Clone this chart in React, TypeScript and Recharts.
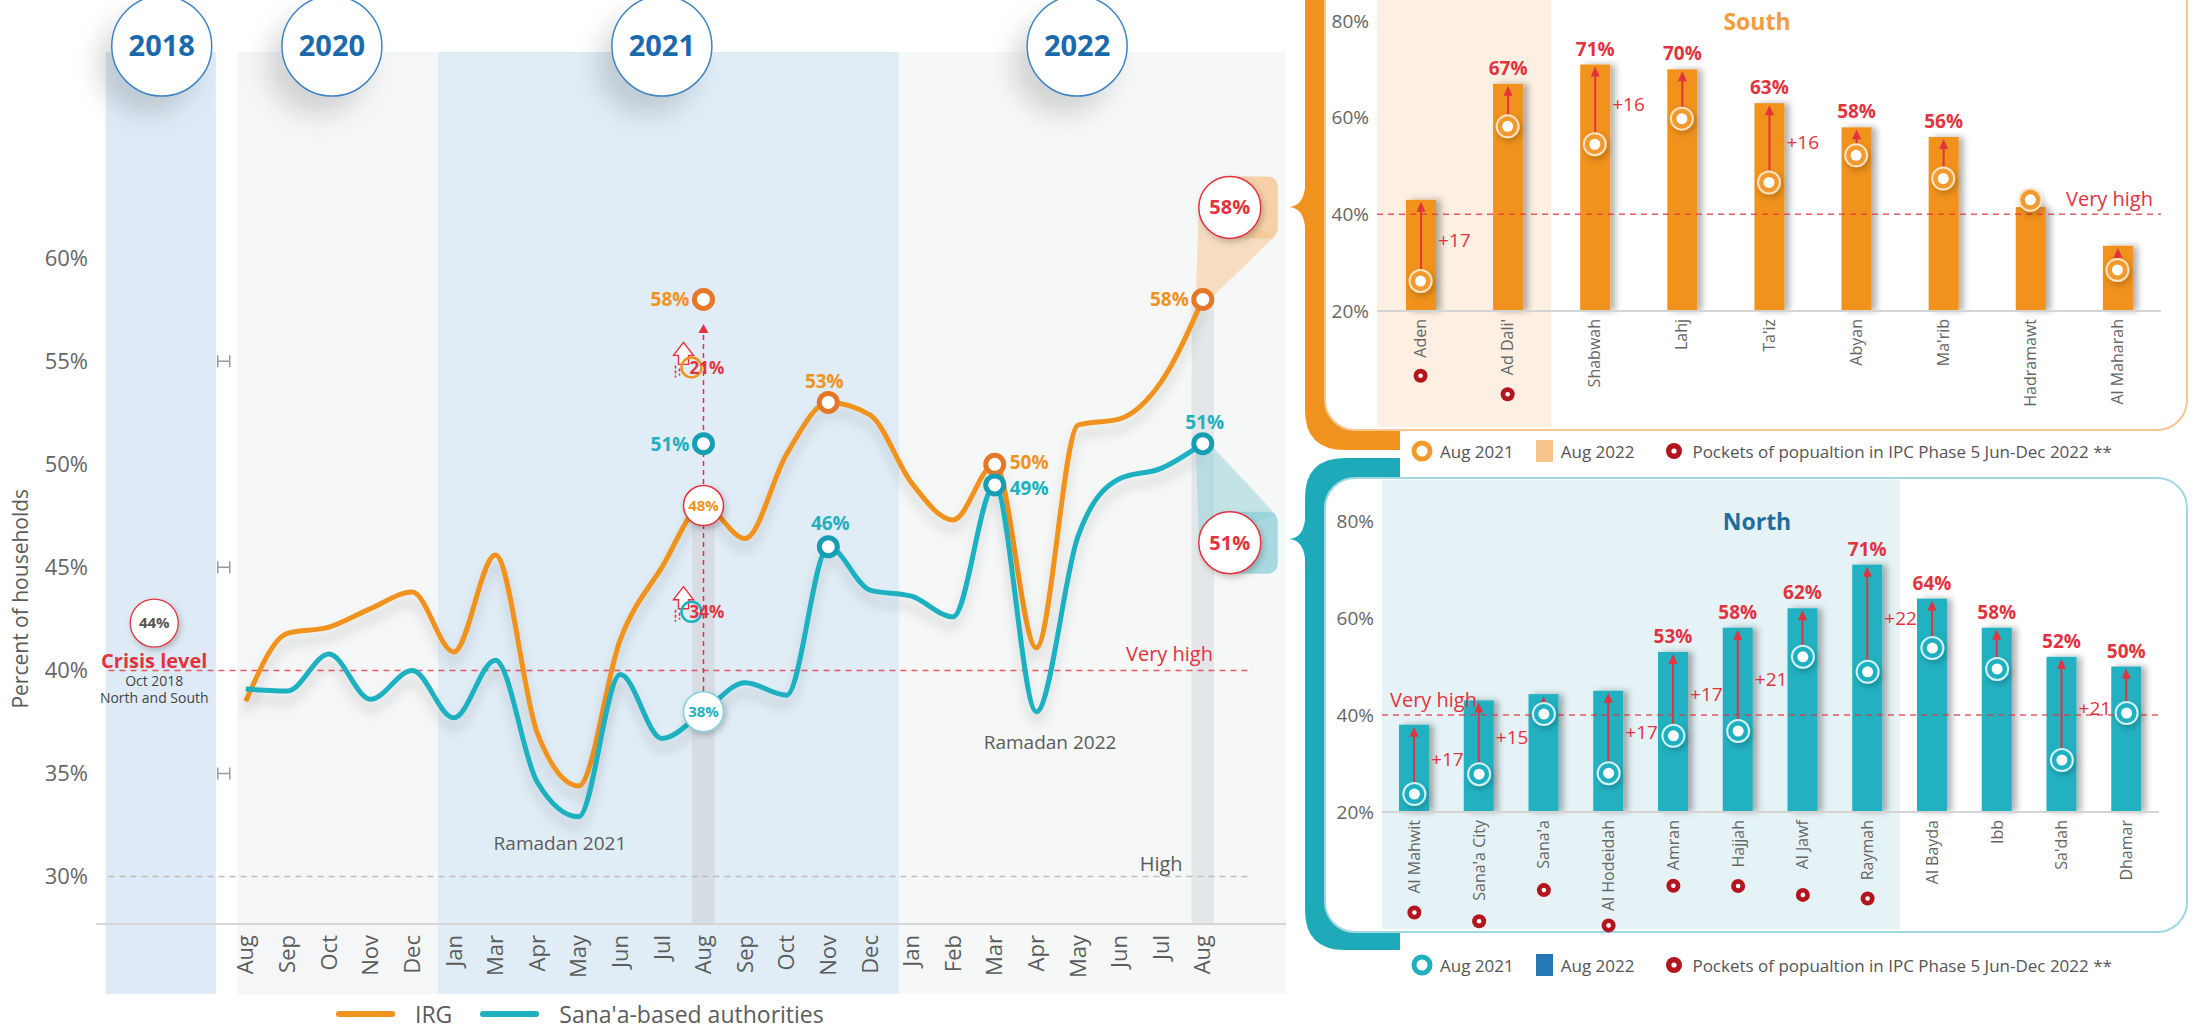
import React from 'react';
import {
  LineChart, Line, XAxis, YAxis, ReferenceArea, ReferenceLine, ReferenceDot, Legend,
  ComposedChart, Bar, Scatter,
} from 'recharts';

// ---------- main chart data ----------
const months = [
  'Aug', 'Sep', 'Oct', 'Nov', 'Dec',
  'Jan', 'Mar', 'Apr', 'May', 'Jun', 'Jul', 'Aug', 'Sep', 'Oct', 'Nov', 'Dec',
  'Jan', 'Feb', 'Mar', 'Apr', 'May', 'Jun', 'Jul', 'Aug',
];
const irgShare = [38.5, 41.8, 42.1, 43.0, 43.8, 40.9, 45.6, 37.0, 34.4, 41.5, 45.0, 48, 46.4, 50.5, 53, 52.4, 49.1, 47.3, 50, 41.1, 51.9, 52.2, 54.0, 58];
const sanaaShare = [39.1, 39.0, 40.8, 38.6, 40.0, 37.7, 40.5, 34.6, 32.9, 39.8, 36.7, 38, 39.4, 38.8, 46, 43.9, 43.6, 42.6, 49, 38.0, 46.5, 49.3, 49.8, 51];
const yearBadges = ['2018', '2020', '2021', '2022'];
const augIncrease = [21, 34]; // Aug 2021 -> Aug 2022 : IRG, Sana'a
const crisisShare = 44;
const yTicks = [30, 35, 40, 45, 50, 55, 60];

// ---------- governorate panels ----------
const southRegions = ['Aden', "Ad Dali'", 'Shabwah', 'Lahj', "Ta'iz", 'Abyan', "Ma'rib", 'Hadramawt', 'Al Maharah'];
const southAug22 = [43, 67, 71, 70, 63, 58, 56, 41.5, 33.5];
const southAug21 = [26.2, 58.2, 54.5, 59.8, 46.6, 52.2, 47.4, 43, 28.5];
const southChange = [17, null, 16, null, 16, null, null, null, null];
const southShowValue = [false, true, true, true, true, true, true, false, false];
const southPockets = [true, true, false, false, false, false, false, false, false];

const northRegions = ['Al Mahwit', "Sana'a City", "Sana'a", 'Al Hodeidah', 'Amran', 'Hajjah', 'Al Jawf', 'Raymah', 'Al Bayda', 'Ibb', "Sa'dah", 'Dhamar'];
const northAug22 = [38, 43, 44.3, 45, 53, 58, 62, 71, 64, 58, 52, 50];
const northAug21 = [23.7, 27.8, 40.2, 28, 35.7, 36.7, 52, 48.9, 53.8, 49.5, 30.7, 40.4];
const northChange = [17, 15, null, 17, 17, 21, null, 22, null, null, 21, null];
const northShowValue = [false, false, false, false, true, true, true, true, true, true, true, true];
const northPockets = [true, true, true, true, true, true, true, true, false, false, false, false];

const panelTicks = [20, 40, 60, 80];
const pocketLabel = 'Pockets of popualtion in IPC Phase 5 Jun-Dec 2022 **';

// ---------- styling ----------
const RED = '#e2333f';
const ORANGE = '#f0921e';
const ORANGE_RING = '#e5772a';
const TEAL = '#1fb0c0';
const TEAL_RING = '#169fb2';
const GREY = '#5c5c5c';
const POCKET = '#b3141d';
const FONT = '"Open Sans", sans-serif';

const mainRows = months.map((m, i) => ({ idx: i, month: m, irg: irgShare[i], sanaa: sanaaShare[i] }));
const southRows = southRegions.map((r, i) => ({
  region: r, aug22: southAug22[i], aug21: southAug21[i], change: southChange[i],
  showValue: southShowValue[i], pocket: southPockets[i],
}));
const northRows = northRegions.map((r, i) => ({
  region: r, aug22: northAug22[i], aug21: northAug21[i], change: northChange[i],
  showValue: northShowValue[i], pocket: northPockets[i],
}));

// layout anchors (x in month-index units, y in %)
const yearBands = [
  { x1: -3.37, x2: -0.72, fill: '#deebf6' },
  { x1: -0.2, x2: 4.62, fill: '#f5f6f7' },
  { x1: 4.62, x2: 15.7, fill: '#e0ecf6' },
  { x1: 15.7, x2: 25, fill: '#f6f7f7' },
];
const badgeX = [-2.02, 2.07, 10, 19.98];
const AUG21 = 11;
const AUG22 = 23;

type Spot = { dx: number; dy: number; anchor: 'start' | 'middle' | 'end' };
const irgSpots: Record<number, Spot> = {
  14: { dx: -4, dy: -14, anchor: 'middle' },
  18: { dx: 15, dy: 5, anchor: 'start' },
  23: { dx: -14, dy: 7, anchor: 'end' },
};
const sanaaSpots: Record<number, Spot> = {
  14: { dx: 2, dy: -17, anchor: 'middle' },
  18: { dx: 15, dy: 10, anchor: 'start' },
  23: { dx: 2, dy: -15, anchor: 'middle' },
};

function seriesDot(key: 'irg' | 'sanaa', text: string, ring: string, bubbleRing: string, spots: Record<number, Spot>) {
  return (p: any) => {
    const { cx, cy, index, payload } = p;
    const v = payload[key];
    if (index === AUG21) {
      return (
        <g key={`${key}-bubble`}>
          <circle cx={cx} cy={cy} r={20} fill="#fff" stroke={bubbleRing} strokeWidth={1.5} filter="url(#softShadow)" />
          <text x={cx} y={cy} dy="0.35em" textAnchor="middle" fill={text} fontSize={15} fontWeight={700}>{v}%</text>
        </g>
      );
    }
    const s = spots[index];
    if (!s) return <g key={`${key}-${index}`} />;
    return (
      <g key={`${key}-${index}`}>
        <circle cx={cx} cy={cy} r={9} fill="#fff" stroke={ring} strokeWidth={5} />
        <text x={cx + s.dx} y={cy + s.dy} textAnchor={s.anchor} fill={text} fontSize={19} fontWeight={700}>{v}%</text>
      </g>
    );
  };
}

const MonthTick = (p: any) => (
  <g transform={`translate(${p.x},${p.y})`}>
    <text transform="rotate(-90)" x={-3} y={0} dy="0.35em" textAnchor="end" fill={GREY} fontSize={22}>
      {months[p.payload.value]}
    </text>
  </g>
);

function Callout({ cx, cy, dir, tint, text, reach }: any) {
  const bx = cx + 27;
  const by = cy + dir * reach;
  const beam = `${cx - 7},${cy} ${bx - 31},${by} ${bx + 46},${by - dir * 28} ${cx + 7},${cy}`;
  return (
    <g>
      <polygon points={beam} fill={tint} fillOpacity={0.5} />
      <rect x={bx - 10} y={by - 31} width={58} height={62} rx={10} fill={tint} fillOpacity={0.75} />
      <circle cx={bx} cy={by} r={31} fill="#fff" stroke={RED} strokeWidth={1.5} filter="url(#softShadow)" />
      <text x={bx} y={by} dy="0.35em" textAnchor="middle" fill={RED} fontSize={20} fontWeight={700}>{text}</text>
    </g>
  );
}

function IncreaseMark({ cx, cy, ring, text }: any) {
  return (
    <g>
      <path d={`M${cx - 30},${cy - 12} l10,-13 l10,13 h-5 v9 h-10 v-9 z`} fill="#fff" stroke={RED} strokeWidth={1.4} />
      <path d={`M${cx - 28},${cy - 2} v12 M${cx - 24},${cy + 1} v7`} stroke={RED} strokeWidth={1.6} strokeDasharray="3 2" />
      <circle cx={cx - 12} cy={cy} r={10} fill="none" stroke={ring} strokeWidth={2.5} />
      <text x={cx - 14} y={cy} dy="0.36em" fill={RED} fontSize={17} fontWeight={700}>{text}%</text>
    </g>
  );
}

const TextMark = ({ cx, cy, text, fill, size, weight }: any) => (
  <text x={cx} y={cy} dy="0.35em" textAnchor="middle" fill={fill} fontSize={size} fontWeight={weight || 400}>{text}</text>
);

const MainLegend = (props: any) => (
  <div style={{ display: 'flex', alignItems: 'center', fontFamily: FONT }}>
    {(props.payload || []).map((e: any) => (
      <div key={e.value} style={{ display: 'flex', alignItems: 'center', marginRight: 28 }}>
        <span style={{ display: 'inline-block', width: 59, height: 6, borderRadius: 3, background: e.color, marginRight: 20 }} />
        <span style={{ fontSize: 23, color: GREY }}>{e.value}</span>
      </div>
    ))}
  </div>
);

const yLabel = (p: any) => {
  const vb = p.viewBox;
  const x = vb.x - 25;
  const y = vb.y + vb.height * 0.627;
  return (
    <text x={x} y={y} transform={`rotate(-90, ${x}, ${y})`} textAnchor="middle" dy="0.35em" fill={GREY} fontSize={21}>
      Percent of households
    </text>
  );
};

function MainChart() {
  return (
    <LineChart width={1300} height={1029} data={mainRows} margin={{ top: 52, right: 14, bottom: 45, left: 46 }}>
      {yearBands.map((b, i) => (
        <ReferenceArea key={`band-${i}`} x1={b.x1} x2={b.x2} y1={24.3} y2={70} ifOverflow="visible" fill={b.fill} fillOpacity={1} stroke="none" />
      ))}
      <ReferenceArea x1={AUG21 - 0.27} x2={AUG21 + 0.27} y1={27.7} y2={irgShare[AUG21]} ifOverflow="visible" fill="#d3d9e0" fillOpacity={0.8} stroke="none" />
      <ReferenceArea x1={AUG22 - 0.27} x2={AUG22 + 0.27} y1={27.7} y2={irgShare[AUG22]} ifOverflow="visible" fill="#e2e4e7" fillOpacity={0.9} stroke="none" />
      <XAxis dataKey="idx" type="number" domain={[-3.6, 25]} ticks={mainRows.map((r) => r.idx)} interval={0}
        tick={(p: any) => <MonthTick {...p} />} tickLine={false} axisLine={{ stroke: '#d6d6d6', strokeWidth: 2 }} height={60} allowDataOverflow />
      <YAxis domain={[27.7, 70]} ticks={yTicks} tickFormatter={(v: number) => `${v}%`} width={50} tickLine={false} axisLine={false}
        tick={{ fill: '#666', fontSize: 22 }} label={yLabel} allowDataOverflow />
      <ReferenceLine segment={[{ x: -3.3, y: 40 }, { x: 24.2, y: 40 }]} stroke={RED} strokeOpacity={0.8} strokeDasharray="6 5" strokeWidth={1.5} ifOverflow="visible" />
      <ReferenceLine segment={[{ x: -3.3, y: 30 }, { x: 24.2, y: 30 }]} stroke="#bdbdbd" strokeDasharray="6 5" strokeWidth={1.5} ifOverflow="visible" />
      <ReferenceLine segment={[{ x: AUG21, y: sanaaShare[AUG21] + 1 }, { x: AUG21, y: irgShare[AUG22] - 1.2 }]} stroke={RED} strokeDasharray="5 4" strokeWidth={1.5} />
      <ReferenceDot x={AUG21} y={irgShare[AUG22] - 1.2} ifOverflow="visible"
        shape={(p: any) => <path d={`M${p.cx - 5},${p.cy + 9} L${p.cx},${p.cy} L${p.cx + 5},${p.cy + 9} Z`} fill={RED} />} />

      {/* breaks on the y axis */}
      {[55, 45, 35].map((v) => (
        <ReferenceDot key={`brk-${v}`} x={-0.53} y={v} ifOverflow="visible"
          shape={(p: any) => <path d={`M${p.cx - 6},${p.cy - 6} v12 M${p.cx + 6},${p.cy - 6} v12 M${p.cx - 6},${p.cy} h12`} stroke="#9a9a9a" strokeWidth={1.5} fill="none" />} />
      ))}

      {/* callouts to the governorate panels */}
      <ReferenceDot x={AUG22} y={irgShare[AUG22]} ifOverflow="visible"
        shape={(p: any) => <Callout cx={p.cx} cy={p.cy} dir={-1} reach={92} tint="#f5c48e" text={`${irgShare[AUG22]}%`} />} />
      <ReferenceDot x={AUG22} y={sanaaShare[AUG22]} ifOverflow="visible"
        shape={(p: any) => <Callout cx={p.cx} cy={p.cy} dir={1} reach={99} tint="#8fcfd8" text={`${sanaaShare[AUG22]}%`} />} />

      <Line dataKey="irg" name="IRG" type="monotone" stroke={ORANGE} strokeWidth={5} filter="url(#lineShadow)"
        dot={seriesDot('irg', ORANGE, ORANGE_RING, RED, irgSpots)} activeDot={false} isAnimationActive={false} />
      <Line dataKey="sanaa" name="Sana'a-based authorities" type="monotone" stroke={TEAL} strokeWidth={5} filter="url(#lineShadow)"
        dot={seriesDot('sanaa', TEAL, TEAL_RING, '#7fd0da', sanaaSpots)} activeDot={false} isAnimationActive={false} />

      {/* Aug 2022 values shown again in the Aug 2021 column */}
      <ReferenceDot x={AUG21} y={irgShare[AUG22]} ifOverflow="visible"
        shape={(p: any) => (
          <g>
            <circle cx={p.cx} cy={p.cy} r={9} fill="#fff" stroke={ORANGE_RING} strokeWidth={5} />
            <text x={p.cx - 14} y={p.cy + 7} textAnchor="end" fill={ORANGE} fontSize={19} fontWeight={700}>{irgShare[AUG22]}%</text>
          </g>
        )} />
      <ReferenceDot x={AUG21} y={sanaaShare[AUG22]} ifOverflow="visible"
        shape={(p: any) => (
          <g>
            <circle cx={p.cx} cy={p.cy} r={9} fill="#fff" stroke={TEAL_RING} strokeWidth={5} />
            <text x={p.cx - 14} y={p.cy + 7} textAnchor="end" fill={TEAL} fontSize={19} fontWeight={700}>{sanaaShare[AUG22]}%</text>
          </g>
        )} />
      <ReferenceDot x={AUG21} y={54.7} ifOverflow="visible"
        shape={(p: any) => <IncreaseMark cx={p.cx} cy={p.cy} ring={ORANGE} text={augIncrease[0]} />} />
      <ReferenceDot x={AUG21} y={42.85} ifOverflow="visible"
        shape={(p: any) => <IncreaseMark cx={p.cx} cy={p.cy} ring={TEAL} text={augIncrease[1]} />} />

      {/* text annotations */}
      <ReferenceDot x={7.55} y={31.6} ifOverflow="visible" shape={(p: any) => <TextMark {...p} text="Ramadan 2021" fill={GREY} size={19} />} />
      <ReferenceDot x={19.33} y={36.5} ifOverflow="visible" shape={(p: any) => <TextMark {...p} text="Ramadan 2022" fill={GREY} size={19} />} />
      <ReferenceDot x={22.2} y={40.8} ifOverflow="visible" shape={(p: any) => <TextMark {...p} text="Very high" fill={RED} size={20} />} />
      <ReferenceDot x={22.0} y={30.6} ifOverflow="visible" shape={(p: any) => <TextMark {...p} text="High" fill={GREY} size={20} />} />

      {/* 2018 crisis reference */}
      <ReferenceDot x={-2.2} y={42.3} ifOverflow="visible"
        shape={(p: any) => (
          <g>
            <circle cx={p.cx} cy={p.cy} r={24} fill="#fff" stroke={RED} strokeWidth={1.3} filter="url(#softShadow)" />
            <text x={p.cx} y={p.cy} dy="0.35em" textAnchor="middle" fill="#555" fontSize={15} fontWeight={700}>{crisisShare}%</text>
            <text x={p.cx} y={p.cy + 45} textAnchor="middle" fill={RED} fontSize={20} fontWeight={700}>Crisis level</text>
            <text x={p.cx} y={p.cy + 63} textAnchor="middle" fill="#444" fontSize={14}>Oct 2018</text>
            <text x={p.cx} y={p.cy + 80} textAnchor="middle" fill="#444" fontSize={14}>North and South</text>
          </g>
        )} />

      {/* year badges */}
      {yearBadges.map((yr, i) => (
        <ReferenceDot key={yr} x={badgeX[i]} y={70.29} ifOverflow="visible"
          shape={(p: any) => (
            <g>
              <circle cx={p.cx} cy={p.cy} r={50} fill="#fff" stroke="#3f83c1" strokeWidth={1.5} filter="url(#badgeShadow)" />
              <text x={p.cx} y={p.cy} dy="0.36em" textAnchor="middle" fill="#1b69ad" fontSize={29} fontWeight={700}>{yr}</text>
            </g>
          )} />
      ))}

      <Legend verticalAlign="middle" align="center" content={MainLegend}
        wrapperStyle={{ left: 336, top: 998, width: 640, height: 34 }} />
    </LineChart>
  );
}

// ---------- panels ----------
const charWidth = (s: string) => s.split('').reduce((a, c) => {
  if ("iljIft' .r".includes(c)) return a + 4.6;
  if ('MWmw'.includes(c)) return a + 13;
  return a + 8.7;
}, 0);

function makeRegionTick(rows: any[]) {
  return (p: any) => {
    const row = rows.find((r) => r.region === p.payload.value);
    const end = charWidth(p.payload.value) + 22;
    return (
      <g transform={`translate(${p.x},${p.y})`}>
        <text transform="rotate(-90)" x={0} y={0} dy="0.35em" textAnchor="end" fill="#666" fontSize={16}>{p.payload.value}</text>
        {row && row.pocket && (
          <g>
            <circle cx={0} cy={end} r={7} fill={POCKET} />
            <circle cx={0} cy={end} r={2.3} fill="#fff" />
          </g>
        )}
      </g>
    );
  };
}

function makeBarShape(fill: string) {
  return (props: any) => {
    const { x, y, width, height, payload } = props;
    const cx = x + width / 2;
    const perUnit = height / (payload.aug22 - 20);
    const y21 = y + height - (payload.aug21 - 20) * perUnit;
    const rise = payload.aug22 - payload.aug21 > 2;
    return (
      <g>
        <rect x={x} y={y} width={width} height={height} fill={fill} filter="url(#barShadow)" />
        {rise && <line x1={cx} y1={y21 - 11} x2={cx} y2={y + 9} stroke={RED} strokeWidth={2} />}
        {rise && <path d={`M${cx - 4.5},${y + 12} L${cx},${y + 2} L${cx + 4.5},${y + 12} Z`} fill={RED} />}
        {payload.change != null && (
          <text x={x + width + 2} y={(y21 + y) / 2} dy="0.35em" fill={RED} fontSize={19}>+{payload.change}</text>
        )}
        {payload.showValue && (
          <text x={cx} y={y - 9} textAnchor="middle" fill={RED} fontSize={19} fontWeight={700}>{payload.aug22}%</text>
        )}
      </g>
    );
  };
}

const ringShape = (color: string, rim: string) => (p: any) => (
  <g>
    <circle cx={p.cx} cy={p.cy} r={11} fill={color} stroke={rim} strokeWidth={2} filter="url(#softShadow)" />
    <circle cx={p.cx} cy={p.cy} r={5.5} fill="#fff" />
  </g>
);

const PanelLegend = ({ ring, square, payload }: any) => {
  const names = (payload || []).map((e: any) => e.value);
  const n21 = names.find((n: string) => n.includes('2021')) || 'Aug 2021';
  const n22 = names.find((n: string) => n.includes('2022')) || 'Aug 2022';
  return (
    <div style={{ display: 'flex', alignItems: 'center', fontSize: 17, color: '#555', whiteSpace: 'nowrap', fontFamily: FONT }}>
      <svg width={24} height={26}><circle cx={12} cy={13} r={8} fill="#fff" stroke={ring} strokeWidth={5} /></svg>
      <span style={{ marginLeft: 6, marginRight: 22 }}>{n21}</span>
      <span style={{ display: 'inline-block', width: 17, height: 22, background: square }} />
      <span style={{ marginLeft: 8, marginRight: 30 }}>{n22}</span>
      <svg width={20} height={26}><circle cx={10} cy={13} r={8} fill={POCKET} /><circle cx={10} cy={13} r={2.6} fill="#fff" /></svg>
      <span style={{ marginLeft: 8 }}>{pocketLabel}</span>
    </div>
  );
};

function RegionPanel(props: any) {
  const { rows, width, height, margin, xAxisHeight, barFill, ringFill, ringRim, hiFrom, hiTo, hiFill, hiTop, hiBottom,
    legendTop, legendSquare, veryHighPos } = props;
  return (
    <ComposedChart width={width} height={height} data={rows} margin={margin}>
      <ReferenceArea x1={hiFrom} x2={hiTo} y1={hiBottom} y2={hiTop} ifOverflow="visible" fill={hiFill} fillOpacity={1} stroke="none" />
      <XAxis dataKey="region" type="category" interval={0} tickLine={false} axisLine={{ stroke: '#d4d4d4', strokeWidth: 2 }}
        height={xAxisHeight} tick={makeRegionTick(rows)} />
      <YAxis domain={[20, 80]} ticks={panelTicks} tickFormatter={(v: number) => `${v}%`} width={50} tickLine={false} axisLine={false}
        tick={{ fill: '#666', fontSize: 19 }} />
      <ReferenceLine y={40} stroke={RED} strokeOpacity={0.8} strokeDasharray="6 5" strokeWidth={1.5}
        label={{ value: 'Very high', position: veryHighPos, fill: RED, fontSize: 20, offset: 8 }} />
      <Bar dataKey="aug22" name="Aug 2022" barSize={30} fill={barFill} shape={makeBarShape(barFill)} isAnimationActive={false} />
      <Scatter dataKey="aug21" name="Aug 2021" fill={ringFill} shape={ringShape(ringFill, ringRim)} isAnimationActive={false} />
      <Legend verticalAlign="middle" align="center"
        content={(lp: any) => <PanelLegend {...lp} ring={ringFill} square={legendSquare} />}
        wrapperStyle={{ left: 110, top: legendTop, width: 780, height: 28 }} />
    </ComposedChart>
  );
}

function Frames() {
  return (
    <svg width={2195} height={1029} style={{ position: 'absolute', left: 0, top: 0 }}>
      <defs>
        <filter id="lineShadow" x="-5%" y="-20%" width="110%" height="160%">
          <feDropShadow dx="0" dy="10" stdDeviation="6" floodColor="#000" floodOpacity="0.16" />
        </filter>
        <filter id="softShadow" x="-50%" y="-50%" width="200%" height="200%">
          <feDropShadow dx="2" dy="3" stdDeviation="3" floodColor="#000" floodOpacity="0.22" />
        </filter>
        <filter id="barShadow" x="-30%" y="-10%" width="180%" height="120%">
          <feDropShadow dx="5" dy="0" stdDeviation="3" floodColor="#000" floodOpacity="0.3" />
        </filter>
        <filter id="badgeShadow" x="-100%" y="-100%" width="300%" height="300%">
          <feDropShadow dx="-14" dy="18" stdDeviation="12" floodColor="#000" floodOpacity="0.14" />
        </filter>
      </defs>
      {/* south bracket + frame */}
      <path d="M1305,-40 H1400 V450 H1345 Q1305,450 1305,410 Z" fill={ORANGE} />
      <path d="M1306,172 C1306,200 1300,207 1286,207 C1300,207 1306,214 1306,242 Z" fill={ORANGE} />
      <rect x={1325} y={-30} width={862} height={460} rx={30} fill="#fff" stroke="#f6c690" strokeWidth={2} />
      <text x={1757} y={30} textAnchor="middle" fill="#f39c40" fontSize={23} fontWeight={700} fontFamily={FONT}>South</text>
      {/* north bracket + frame */}
      <path d="M1345,458 H1400 V950 H1345 Q1305,950 1305,910 V498 Q1305,458 1345,458 Z" fill="#1eaab9" />
      <path d="M1306,504 C1306,532 1300,539 1286,539 C1300,539 1306,546 1306,574 Z" fill="#1eaab9" />
      <rect x={1325} y={478} width={862} height={454} rx={30} fill="#fff" stroke="#9fd8e0" strokeWidth={2} />
    </svg>
  );
}

export default function App() {
  return (
    <div style={{ position: 'absolute', left: 0, top: 0, width: 2195, height: 1029, overflow: 'hidden', background: '#fff', fontFamily: FONT }}>
      <Frames />
      <div style={{ position: 'absolute', left: 0, top: 0 }}>
        <MainChart />
      </div>
      <div style={{ position: 'absolute', left: 1300, top: 0 }}>
        <RegionPanel rows={southRows} width={895} height={470}
          margin={{ top: 21, right: 34, bottom: 59, left: 27 }} xAxisHeight={100}
          barFill={ORANGE} ringFill="#f39a2e" ringRim="#fde3c4"
          hiFrom="Aden" hiTo="Ad Dali'" hiFill="#fdf0e2" hiTop={88} hiBottom={-4}
          legendTop={438} legendSquare="#f7c28c" veryHighPos="insideBottomRight" />
      </div>
      <div style={{ position: 'absolute', left: 1300, top: 470 }}>
        <RegionPanel rows={northRows} width={895} height={559}
          margin={{ top: 51, right: 36, bottom: 97, left: 32 }} xAxisHeight={120}
          barFill="#20b1c1" ringFill="#1fb0c0" ringRim="#d4f1f5"
          hiFrom="Al Mahwit" hiTo="Raymah" hiFill="#e6f3f6" hiTop={88.5} hiBottom={-4.2}
          legendTop={482} legendSquare="#2577b5" veryHighPos="insideBottomLeft" />
      </div>
      <div style={{ position: 'absolute', left: 1757 - 60, top: 505, width: 120, textAlign: 'center', color: '#1f6e9e', fontSize: 23, fontWeight: 700 }}>
        North
      </div>
    </div>
  );
}
